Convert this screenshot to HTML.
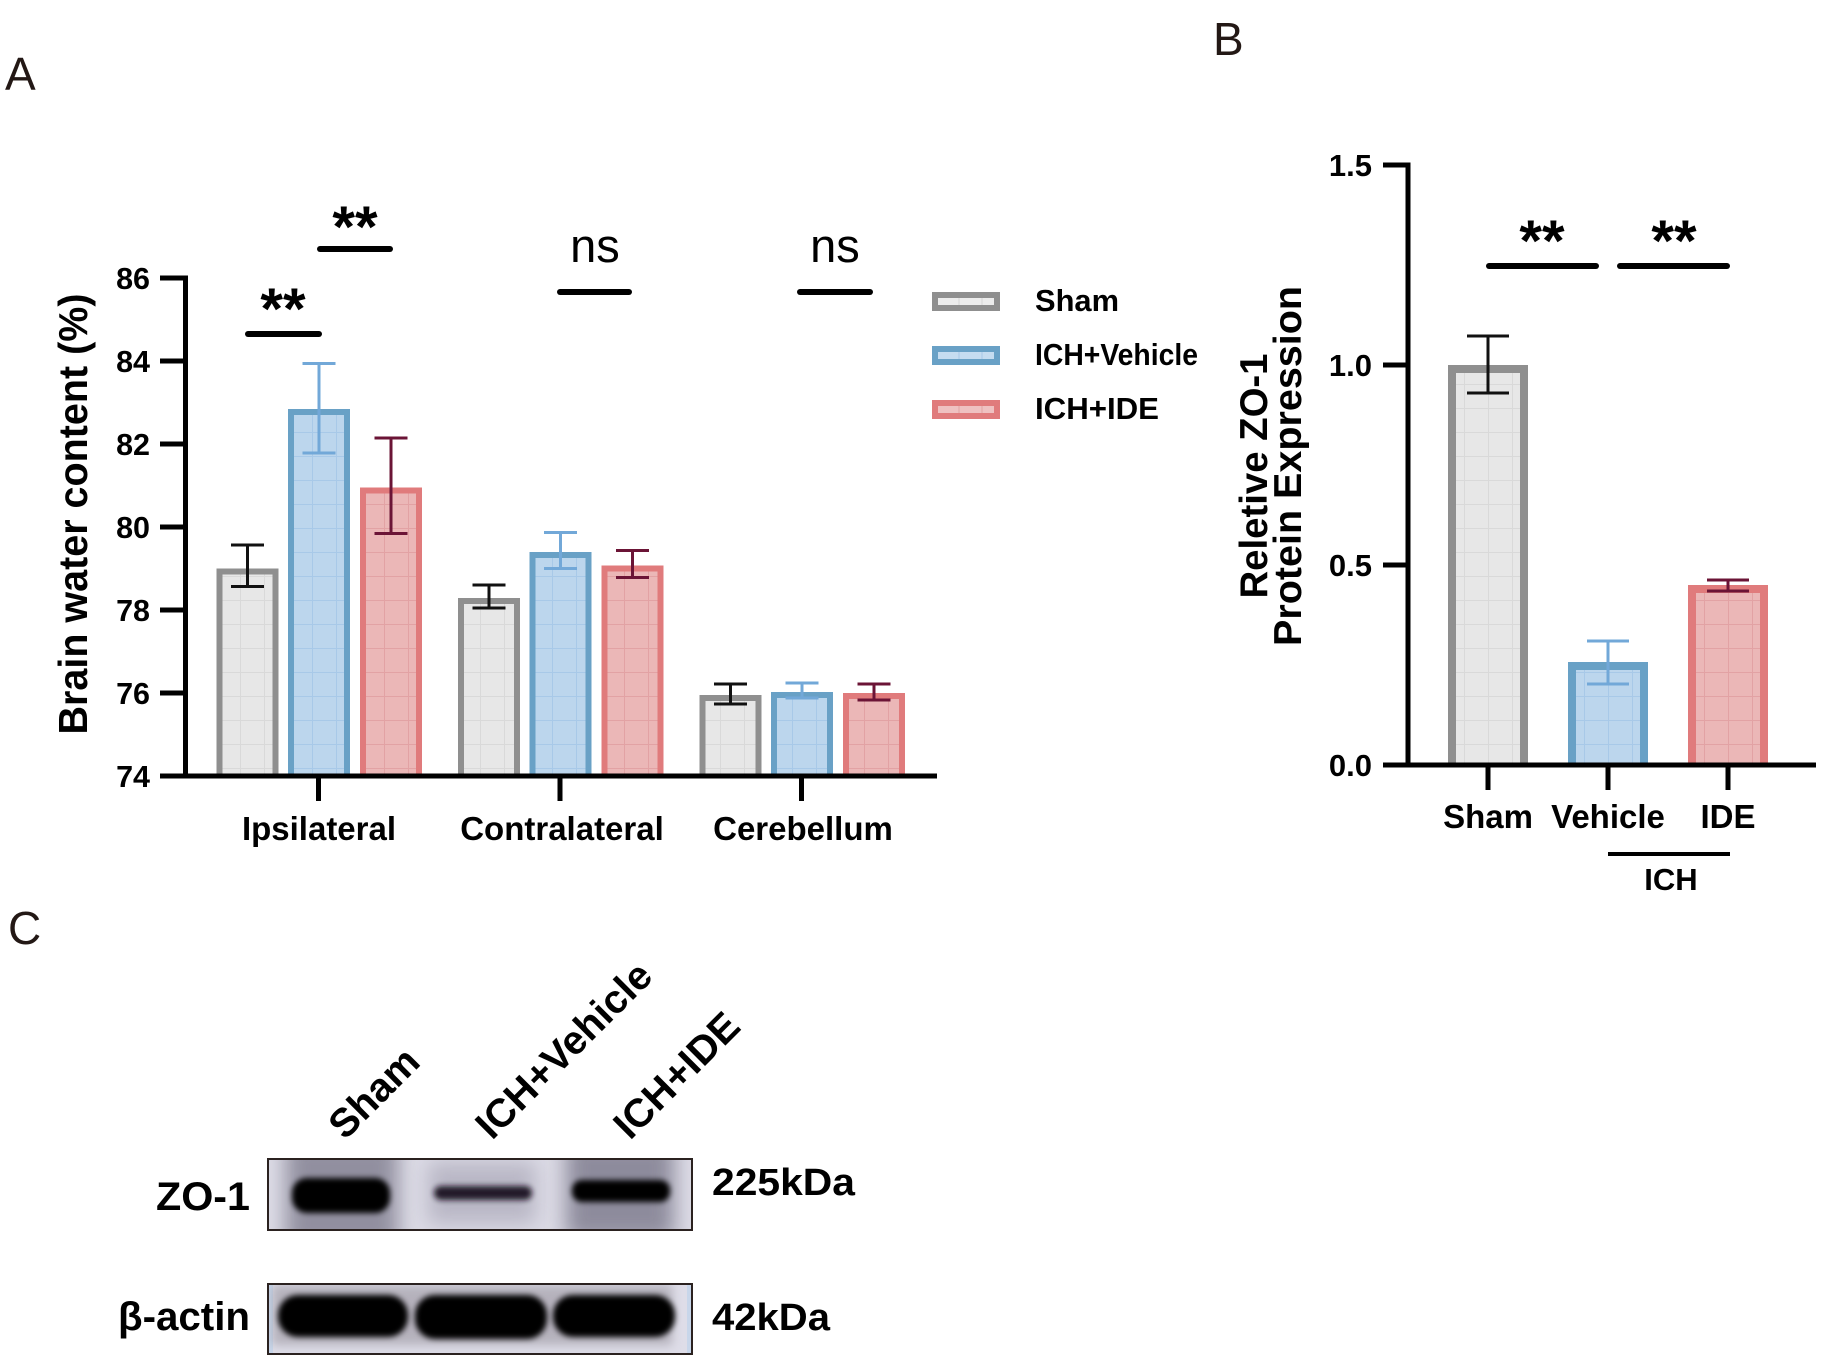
<!DOCTYPE html>
<html><head><meta charset="utf-8"><style>
html,body{margin:0;padding:0;background:#fff;}
svg{display:block;}
text{font-family:"Liberation Sans",Arial,sans-serif;}
</style></head><body>
<svg width="1822" height="1368" viewBox="0 0 1822 1368" xmlns="http://www.w3.org/2000/svg">
<defs>
 <pattern id="gS" width="24" height="24" patternUnits="userSpaceOnUse"><rect width="24" height="24" fill="#e7e7e7"/><path d="M0 0.5H24M0.5 0V24" stroke="#d9d9d9" stroke-width="1"/></pattern>
 <pattern id="gV" width="24" height="24" patternUnits="userSpaceOnUse"><rect width="24" height="24" fill="#bcd6ed"/><path d="M0 0.5H24M0.5 0V24" stroke="#a8c9e8" stroke-width="1"/></pattern>
 <pattern id="gI" width="24" height="24" patternUnits="userSpaceOnUse"><rect width="24" height="24" fill="#ebb7b7"/><path d="M0 0.5H24M0.5 0V24" stroke="#e2a2a4" stroke-width="1"/></pattern>
 <filter id="bl3" x="-20%" y="-50%" width="140%" height="200%"><feGaussianBlur stdDeviation="3"/></filter>
 <filter id="bl5" x="-30%" y="-60%" width="160%" height="220%"><feGaussianBlur stdDeviation="5"/></filter>
 <filter id="bl10" x="-40%" y="-60%" width="180%" height="220%"><feGaussianBlur stdDeviation="10"/></filter>
 <clipPath id="c1"><rect x="268" y="1159" width="424" height="71"/></clipPath>
 <clipPath id="c2"><rect x="268" y="1284" width="424" height="70"/></clipPath>
</defs>

<!-- Panel letters -->
<text x="5" y="90" font-size="46" fill="#231815">A</text>
<text x="1213" y="55" font-size="46" fill="#231815">B</text>
<text x="8" y="944" font-size="46" fill="#231815">C</text>

<!-- ============ PANEL A ============ -->
<g>
 <rect x="216.5" y="568.5" width="62" height="207.5" fill="url(#gS)"/>
 <rect x="288" y="409" width="62" height="367" fill="url(#gV)"/>
 <rect x="360" y="487.5" width="62" height="288.5" fill="url(#gI)"/>
 <rect x="458" y="598" width="62" height="178" fill="url(#gS)"/>
 <rect x="529.5" y="552" width="62" height="224" fill="url(#gV)"/>
 <rect x="601.5" y="565.5" width="62" height="210.5" fill="url(#gI)"/>
 <rect x="699.5" y="695" width="62" height="81" fill="url(#gS)"/>
 <rect x="771" y="692" width="62" height="84" fill="url(#gV)"/>
 <rect x="843" y="693" width="62" height="83" fill="url(#gI)"/>
</g>
<g stroke-width="6" fill="none">
 <path d="M219.5 776V571.5H275.5V776" stroke="#8f8f8f"/>
 <path d="M291 776V412H347V776" stroke="#69a1c6"/>
 <path d="M363 776V490.5H419V776" stroke="#e07b7c"/>
 <path d="M461 776V601H517V776" stroke="#8f8f8f"/>
 <path d="M532.5 776V555H588.5V776" stroke="#69a1c6"/>
 <path d="M604.5 776V568.5H660.5V776" stroke="#e07b7c"/>
 <path d="M702.5 776V698H758.5V776" stroke="#8f8f8f"/>
 <path d="M774 776V695H830V776" stroke="#69a1c6"/>
 <path d="M846 776V696H902V776" stroke="#e07b7c"/>
</g>
<g stroke-width="3" fill="none">
 <path d="M247.5 545V586.5M231 545H264M231 586.5H264" stroke="#111"/>
 <path d="M319 363.5V453M302.5 363.5H335.5M302.5 453H335.5" stroke="#72a8d8"/>
 <path d="M391 438V533.5M374.5 438H407.5M374.5 533.5H407.5" stroke="#6b1436"/>
 <path d="M489 585V608M472.5 585H505.5M472.5 608H505.5" stroke="#111"/>
 <path d="M560.5 532.5V568.5M544 532.5H577M544 568.5H577" stroke="#72a8d8"/>
 <path d="M632.5 550.5V577.5M616 550.5H649M616 577.5H649" stroke="#6b1436"/>
 <path d="M730.5 684V704M714 684H747M714 704H747" stroke="#111"/>
 <path d="M802 683V698M785.5 683H818.5M785.5 698H818.5" stroke="#72a8d8"/>
 <path d="M874 684V700M857.5 684H890.5M857.5 700H890.5" stroke="#6b1436"/>
</g>
<g stroke="#000" stroke-width="5" fill="none">
 <path d="M185.5 275.5V778.5"/>
 <path d="M160 776H937"/>
 <path d="M160 278H185M160 361H185M160 444H185M160 527H185M160 610H185M160 693H185"/>
 <path d="M318.5 776V801M560 776V801M801.5 776V801"/>
</g>
<g font-size="30.5" font-weight="bold" text-anchor="end" fill="#000">
 <text x="150" y="289">86</text>
 <text x="150" y="372">84</text>
 <text x="150" y="455">82</text>
 <text x="150" y="538">80</text>
 <text x="150" y="621">78</text>
 <text x="150" y="704">76</text>
 <text x="150" y="787">74</text>
</g>
<g font-size="33" font-weight="bold" text-anchor="middle" fill="#000">
 <text x="319" y="840">Ipsilateral</text>
 <text x="562" y="840">Contralateral</text>
 <text x="803" y="840">Cerebellum</text>
</g>
<text transform="translate(87,514) rotate(-90)" font-size="41" font-weight="bold" text-anchor="middle" textLength="441" lengthAdjust="spacingAndGlyphs">Brain water content (%)</text>
<g stroke="#000" stroke-width="6" stroke-linecap="round">
 <path d="M248 334H319"/>
 <path d="M320 249H390"/>
 <path d="M560 292H629"/>
 <path d="M800 292H870"/>
</g>
<g font-size="58" font-weight="bold" text-anchor="middle">
 <text x="283" y="329">**</text>
 <text x="355" y="247">**</text>
</g>
<g font-size="47" text-anchor="middle">
 <text x="595" y="262">ns</text>
 <text x="835" y="262">ns</text>
</g>

<!-- legend -->
<g stroke-width="6">
 <rect x="935" y="295" width="62" height="13" fill="#ececec" stroke="#8f8f8f"/>
 <rect x="935" y="349" width="62" height="13" fill="#c5dcf0" stroke="#69a1c6"/>
 <rect x="935" y="403" width="62" height="13" fill="#efc1c1" stroke="#e07b7c"/>
</g>
<g stroke-width="1">
 <path d="M959 298V305M982 298V305" stroke="#d6d6d6"/>
 <path d="M959 352V359M982 352V359" stroke="#a8c9e8"/>
 <path d="M959 406V413M982 406V413" stroke="#e2a2a4"/>
</g>
<g font-size="31" font-weight="bold" fill="#000">
 <text x="1035" y="311" textLength="84" lengthAdjust="spacingAndGlyphs">Sham</text>
 <text x="1035" y="365" textLength="163" lengthAdjust="spacingAndGlyphs">ICH+Vehicle</text>
 <text x="1035" y="419" textLength="124" lengthAdjust="spacingAndGlyphs">ICH+IDE</text>
</g>

<!-- ============ PANEL B ============ -->
<g>
 <rect x="1448" y="365" width="80" height="400" fill="url(#gS)"/>
 <rect x="1568" y="662" width="80" height="103" fill="url(#gV)"/>
 <rect x="1688" y="585" width="80" height="180" fill="url(#gI)"/>
</g>
<g stroke-width="8" fill="none">
 <path d="M1452 765V369H1524V765" stroke="#8f8f8f"/>
 <path d="M1572 765V666H1644V765" stroke="#69a1c6"/>
 <path d="M1692 765V589H1764V765" stroke="#e07b7c"/>
</g>
<g stroke-width="3" fill="none">
 <path d="M1488 336V393M1467 336H1509M1467 393H1509" stroke="#111"/>
 <path d="M1608 641V684M1587 641H1629M1587 684H1629" stroke="#72a8d8"/>
 <path d="M1728 580V591M1707 580H1749M1707 591H1749" stroke="#6b1436"/>
</g>
<g stroke="#000" stroke-width="5" fill="none">
 <path d="M1408 162.5V767.5"/>
 <path d="M1383 765H1816"/>
 <path d="M1383 165H1408M1383 365H1408M1383 565H1408"/>
 <path d="M1488 765V790M1608 765V790M1728 765V790"/>
</g>
<path d="M1608 854H1730" stroke="#000" stroke-width="4"/>
<g font-size="31" font-weight="bold" text-anchor="end">
 <text x="1372" y="176">1.5</text>
 <text x="1372" y="376">1.0</text>
 <text x="1372" y="576">0.5</text>
 <text x="1372" y="776">0.0</text>
</g>
<g font-size="33" font-weight="bold" text-anchor="middle">
 <text x="1488" y="828">Sham</text>
 <text x="1608" y="828">Vehicle</text>
 <text x="1728" y="828">IDE</text>
 <text x="1671" y="890" font-size="31">ICH</text>
</g>
<g font-size="39" font-weight="bold" text-anchor="middle">
 <text transform="translate(1267,476) rotate(-90)" textLength="245" lengthAdjust="spacingAndGlyphs">Reletive ZO-1</text>
 <text transform="translate(1301,466) rotate(-90)" textLength="360" lengthAdjust="spacingAndGlyphs">Protein Expression</text>
</g>
<g stroke="#000" stroke-width="6" stroke-linecap="round">
 <path d="M1489 266H1596"/>
 <path d="M1620 266H1727"/>
</g>
<g font-size="58" font-weight="bold" text-anchor="middle">
 <text x="1542" y="261">**</text>
 <text x="1674" y="261">**</text>
</g>

<!-- ============ PANEL C ============ -->
<g font-size="40" font-weight="bold">
 <text transform="translate(345,1141) rotate(-45)">Sham</text>
 <text transform="translate(492,1141) rotate(-45)">ICH+Vehicle</text>
 <text transform="translate(630,1141) rotate(-45)">ICH+IDE</text>
</g>
<g clip-path="url(#c1)">
 <rect x="268" y="1159" width="424" height="71" fill="#dcdbe6"/>
 <rect x="286" y="1140" width="112" height="110" fill="#7f7d8e" opacity="0.8" filter="url(#bl10)"/>
 <rect x="428" y="1162" width="108" height="62" fill="#b3b1c0" opacity="0.85" filter="url(#bl10)"/>
 <rect x="566" y="1140" width="108" height="100" fill="#7a788a" opacity="0.8" filter="url(#bl10)"/>
 <rect x="292" y="1178" width="98" height="35" rx="15" fill="#000" filter="url(#bl3)"/>
 <rect x="434" y="1186" width="98" height="14" rx="7" fill="#140f1a" opacity="0.92" filter="url(#bl3)"/>
 <rect x="572" y="1180" width="98" height="22" rx="10" fill="#000" filter="url(#bl3)"/>
</g>
<rect x="268" y="1159" width="424" height="71" fill="none" stroke="#2b2220" stroke-width="2"/>
<g clip-path="url(#c2)">
 <rect x="268" y="1284" width="424" height="70" fill="#dedde8"/>
 <rect x="268" y="1284" width="5" height="70" fill="#c8d6ea"/>
 <rect x="687" y="1284" width="5" height="70" fill="#c8d6ea"/>
 <rect x="272" y="1285" width="400" height="60" fill="#9a959f" opacity="0.6" filter="url(#bl5)"/>
 <rect x="278" y="1295" width="130" height="42" rx="20" fill="#000" filter="url(#bl3)"/>
 <rect x="415" y="1295" width="132" height="44" rx="20" fill="#000" filter="url(#bl3)"/>
 <rect x="553" y="1295" width="122" height="42" rx="20" fill="#000" filter="url(#bl3)"/>
</g>
<rect x="268" y="1284" width="424" height="70" fill="none" stroke="#2b2220" stroke-width="2"/>
<g font-size="40" font-weight="bold" text-anchor="end">
 <text x="250" y="1210" textLength="94" lengthAdjust="spacingAndGlyphs">ZO-1</text>
 <text x="250" y="1330" textLength="132" lengthAdjust="spacingAndGlyphs">β-actin</text>
</g>
<g font-size="38" font-weight="bold">
 <text x="712" y="1195" textLength="143" lengthAdjust="spacingAndGlyphs">225kDa</text>
 <text x="712" y="1330" textLength="118" lengthAdjust="spacingAndGlyphs">42kDa</text>
</g>
</svg>
</body></html>
